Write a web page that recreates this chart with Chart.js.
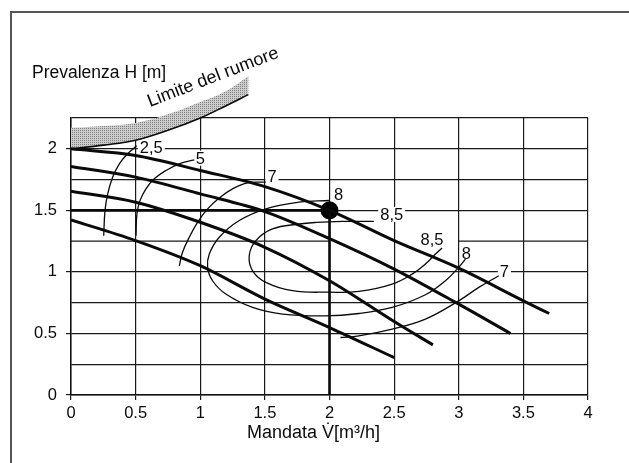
<!DOCTYPE html>
<html><head><meta charset="utf-8">
<script src="https://cdn.jsdelivr.net/npm/chart.js@4/dist/chart.umd.min.js"></script>
<style>html,body{margin:0;padding:0;background:#fff;}#wrap{width:629px;height:463px;}</style>
</head><body><div id="wrap"><canvas id="c" width="629" height="463"></canvas></div>
<script>
// ---- tick labels ----
const xTickLabels = ['0','0.5','1','1.5','2','2.5','3','3.5','4'];
const yTickLabels = ['0','0.5','1','1.5','2'];
const xTitle = 'Mandata V\u0307[m\u00B3/h]';
const yTitle = 'Prevalenza H [m]';
const bandTitle = 'Limite del rumore';

// ---- pump curves (x = V m3/h, y = H m) ----
const pumpCurve1 = [[0,2.0],[0.5,1.946],[1,1.824],[1.5,1.693],[2,1.5],[2.5,1.254],[3,1.03],[3.5,0.765],[3.7,0.662]];
const pumpCurve2 = [[0,1.856],[0.5,1.77],[1,1.634],[1.5,1.49],[2,1.27],[2.5,1.023],[3,0.738],[3.4,0.5]];
const pumpCurve3 = [[0,1.655],[0.5,1.566],[1,1.403],[1.5,1.2],[2,0.928],[2.5,0.597],[2.8,0.407]];
const pumpCurve4 = [[0,1.422],[0.5,1.254],[1,1.05],[1.5,0.779],[2,0.548],[2.5,0.304]];

// ---- efficiency contours ----
const eff25 = [[0.508,2.024],[0.438,1.959],[0.374,1.878],[0.322,1.769],[0.284,1.634],[0.263,1.498],[0.253,1.294]];
const eff5 = [[0.954,1.91],[0.838,1.878],[0.735,1.824],[0.644,1.756],[0.58,1.674],[0.534,1.579],[0.51,1.471],[0.503,1.294]];
const eff7a = [[1.508,1.729],[1.366,1.723],[1.25,1.674],[1.147,1.601],[1.057,1.512],[0.979,1.403],[0.915,1.281],[0.863,1.159],[0.838,1.05]];
const eff7b = [[2.085,0.467],[2.227,0.48],[2.485,0.535],[2.742,0.616],[3.0,0.765],[3.155,0.874],[3.309,0.969]];
const eff8 = [[2.0,1.58],[1.765,1.566],[1.508,1.512],[1.302,1.417],[1.147,1.281],[1.07,1.145],[1.057,1.037],[1.095,0.928],[1.198,0.82],[1.405,0.711],[1.637,0.657],[1.97,0.643],[2.227,0.662],[2.485,0.711],[2.742,0.814],[2.897,0.928],[3.0,1.037],[3.052,1.104]];
const eff85 = [[2.343,1.411],[2.1,1.41],[1.9,1.402],[1.765,1.389],[1.559,1.349],[1.43,1.254],[1.379,1.132],[1.405,1.009],[1.508,0.915],[1.714,0.847],[1.997,0.835],[2.227,0.841],[2.485,0.901],[2.639,0.982],[2.742,1.064],[2.82,1.145],[2.871,1.194]];

// ---- operating point ----
const operatingPoint = [[2,1.5]];
const operatingH = [[0,1.5],[2,1.5]];
const operatingV = [[2,1.5],[2,0]];

// ---- noise limit band ----
const noiseLower = [[0,2.0],[0.25,2.03],[0.5,2.07],[0.75,2.15],[1.0,2.25],[1.2,2.35],[1.372,2.44]];
const noiseUpper = [[0,2.17],[0.25,2.185],[0.5,2.21],[0.75,2.28],[1.0,2.38],[1.2,2.47],[1.372,2.59]];

// ---- contour labels ----
const effLabels = ['2,5','5','7','8','8,5','8,5','8','7'];
const effLabelPos = [[0.621,2.012],[1.0,1.92],[1.555,1.775],[2.071,1.626],[2.481,1.463],[2.793,1.266],[3.059,1.146],[3.353,1.003]];

const FONT = '"Liberation Sans", Arial, Helvetica, sans-serif';
const pts = a => a.map(p => ({x:p[0], y:p[1]}));

function lineDS(data, width, mono) {
  return {data: pts(data), showLine: true, borderColor: '#0a0a0a', borderWidth: width,
    pointRadius: 0, fill: false, tension: mono ? 0 : 0.4,
    cubicInterpolationMode: mono ? 'monotone' : 'default'};
}

const datasets = [
  lineDS(pumpCurve1, 3, true), lineDS(pumpCurve2, 3, true),
  lineDS(pumpCurve3, 3, true), lineDS(pumpCurve4, 3, true),
  lineDS(eff25, 1.3), lineDS(eff5, 1.3), lineDS(eff7a, 1.3), lineDS(eff7b, 1.3),
  lineDS(eff8, 1.3), lineDS(eff85, 1.3),
  Object.assign(lineDS(operatingH, 2.6, false), {tension: 0}),
  Object.assign(lineDS(operatingV, 2.6, false), {tension: 0}),
  Object.assign(lineDS(noiseLower, 1.6, false), {clip: false}),
  Object.assign(lineDS(noiseUpper, 0, false), {clip: false, borderColor: 'rgba(0,0,0,0)'}),
  {data: pts(operatingPoint), showLine: false, pointRadius: 9, pointHoverRadius: 9,
   backgroundColor: '#000', borderColor: '#000', borderWidth: 0}
];
const NOISE_LOWER_IDX = 12, NOISE_UPPER_IDX = 13;

function makePattern() {
  const p = document.createElement('canvas'); p.width = 2; p.height = 2;
  const c = p.getContext('2d');
  c.fillStyle = '#cdcdcd'; c.fillRect(0,0,2,2);
  c.fillStyle = '#7e7e7e'; c.fillRect(0,0,1,1);
  return p;
}

function labelBoxes(chart) {
  const ctx = chart.ctx, xs = chart.scales.x, ys = chart.scales.y;
  ctx.font = '16.5px ' + FONT;
  return effLabels.map((t, i) => {
    const px = xs.getPixelForValue(effLabelPos[i][0]);
    const py = ys.getPixelForValue(effLabelPos[i][1]);
    const w = ctx.measureText(t).width;
    return {t, px, py, w};
  });
}

const decor = {
  id: 'decor',
  beforeDraw(chart) {
    const ctx = chart.ctx;
    ctx.save();
    ctx.fillStyle = '#fff'; ctx.fillRect(0, 0, chart.width, chart.height);
    ctx.restore();
  },
  beforeDatasetsDraw(chart) {
    const ctx = chart.ctx, xs = chart.scales.x, ys = chart.scales.y;
    ctx.save();
    // 1.25 grid line drawn with gap (2..3)
    ctx.strokeStyle = '#1a1a1a'; ctx.lineWidth = 1.2;
    const y125 = ys.getPixelForValue(1.25);
    ctx.beginPath();
    ctx.moveTo(xs.getPixelForValue(0), y125); ctx.lineTo(xs.getPixelForValue(2), y125);
    ctx.moveTo(xs.getPixelForValue(3), y125); ctx.lineTo(xs.getPixelForValue(4), y125);
    ctx.stroke();
    // noise band fill
    const lo = chart.getDatasetMeta(NOISE_LOWER_IDX).data;
    const up = chart.getDatasetMeta(NOISE_UPPER_IDX).data;
    ctx.beginPath();
    ctx.moveTo(lo[0].x, lo[0].y);
    for (let i = 1; i < lo.length; i++) {
      ctx.bezierCurveTo(lo[i-1].cp2x, lo[i-1].cp2y, lo[i].cp1x, lo[i].cp1y, lo[i].x, lo[i].y);
    }
    ctx.lineTo(up[up.length-1].x, up[up.length-1].y);
    for (let i = up.length - 2; i >= 0; i--) {
      ctx.bezierCurveTo(up[i+1].cp1x, up[i+1].cp1y, up[i].cp2x, up[i].cp2y, up[i].x, up[i].y);
    }
    ctx.closePath();
    ctx.fillStyle = ctx.createPattern(makePattern(), 'repeat');
    ctx.fill();
    // white backgrounds behind contour labels
    ctx.fillStyle = '#fff';
    labelBoxes(chart).forEach(b => {
      ctx.fillRect(b.px - b.w/2 - 2, b.py - 8, b.w + 4, 15);
    });
    ctx.restore();
  },
  afterDatasetsDraw(chart) {
    const ctx = chart.ctx;
    ctx.save();
    ctx.fillStyle = '#0a0a0a';
    ctx.textAlign = 'center'; ctx.textBaseline = 'middle';
    labelBoxes(chart).forEach(b => {
      ctx.fillText(b.t, b.px, b.py + 1);
    });
    ctx.restore();
  },
  afterDraw(chart) {
    const ctx = chart.ctx;
    ctx.save();
    // frame
    ctx.strokeStyle = '#555'; ctx.lineWidth = 2;
    ctx.beginPath();
    ctx.moveTo(11, chart.height); ctx.lineTo(11, 12); ctx.lineTo(chart.width, 12);
    ctx.stroke();
    ctx.fillStyle = '#0a0a0a';
    ctx.font = '17.5px ' + FONT;
    ctx.textAlign = 'left'; ctx.textBaseline = 'alphabetic';
    ctx.fillText(yTitle, 32, 78);
    ctx.font = '18px ' + FONT;
    ctx.fillText(xTitle, 247, 438);
    // band title
    ctx.translate(150, 107);
    ctx.rotate(-21 * Math.PI / 180);
    ctx.font = '18px ' + FONT;
    ctx.fillText(bandTitle, 0, 0);
    ctx.restore();
  }
};

new Chart(document.getElementById('c'), {
  type: 'scatter',
  data: {datasets},
  options: {
    responsive: false, animation: false, devicePixelRatio: 1,
    events: [],
    layout: {padding: {left: 0, top: 118, right: 41, bottom: 0}},
    plugins: {legend: {display: false}, tooltip: {enabled: false}},
    scales: {
      x: {
        type: 'linear', min: 0, max: 4,
        afterFit: s => { s.height = 68; },
        ticks: {stepSize: 0.5, color: '#0a0a0a', padding: 4, maxRotation: 0, autoSkip: false,
          font: {family: FONT, size: 16.5},
          callback: (v, i) => xTickLabels[i]},
        grid: {color: '#1a1a1a', lineWidth: 1.2, tickLength: 5, tickColor: '#1a1a1a'},
        border: {color: '#111', width: 1.5}
      },
      y: {
        type: 'linear', min: 0, max: 2.25,
        afterFit: s => { s.width = 71; },
        ticks: {stepSize: 0.25, color: '#0a0a0a', padding: 9, autoSkip: false,
          font: {family: FONT, size: 16.5},
          callback: v => (Math.abs(v / 0.5 - Math.round(v / 0.5)) < 1e-6) ? yTickLabels[Math.round(v / 0.5)] : ''},
        grid: {lineWidth: 1.2, tickLength: 5,
          color: c => (c.tick && Math.abs(c.tick.value - 1.25) < 1e-6) ? 'rgba(0,0,0,0)' : '#1a1a1a',
          tickColor: c => (c.tick && Math.abs(c.tick.value / 0.5 - Math.round(c.tick.value / 0.5)) < 1e-6) ? '#1a1a1a' : 'rgba(0,0,0,0)'},
        border: {color: '#111', width: 1.5}
      }
    }
  },
  plugins: [decor]
});
</script>
</body></html>
